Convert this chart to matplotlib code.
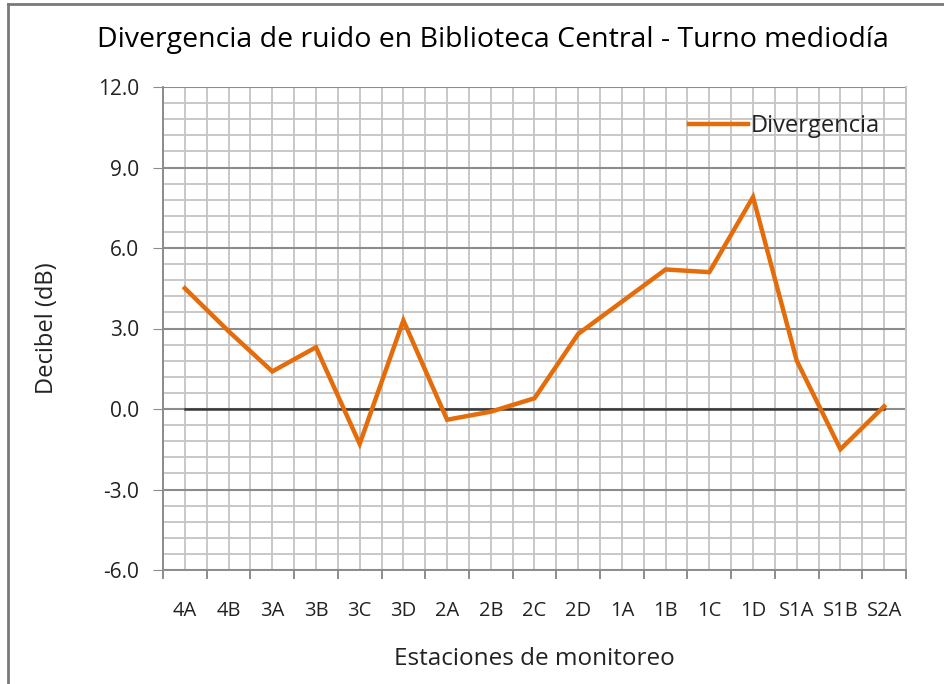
"""Divergencia de ruido - Biblioteca Central, turno mediodía."""
import numpy as np
import matplotlib
matplotlib.use("Agg")
import matplotlib.pyplot as plt
from matplotlib.lines import Line2D

plt.rcParams["font.family"] = ["Open Sans", "DejaVu Sans"]

estaciones = ["4A", "4B", "3A", "3B", "3C", "3D", "2A", "2B", "2C", "2D",
              "1A", "1B", "1C", "1D", "S1A", "S1B", "S2A"]
divergencia = [4.5, 2.9, 1.4, 2.3, -1.3, 3.3, -0.4, -0.1, 0.4, 2.8,
               4.0, 5.2, 5.1, 7.9, 1.8, -1.5, 0.1]
referencia = [0.0] * len(estaciones)

ORANGE = "#E46C0A"
TXT = "#222222"

fig = plt.figure(figsize=(9.45, 6.84), dpi=100)
ax = fig.add_axes([163 / 945, 1 - 570 / 684, 743 / 945, 483 / 684])

x = np.arange(len(estaciones))
ax.plot(x, referencia, color="#3a3a3a", lw=1.8, zorder=3)
ax.plot(x, divergencia, color=ORANGE, lw=3.2, zorder=4, solid_joinstyle="miter")

ax.set_xlim(-0.5, len(estaciones) - 0.5)
ax.set_ylim(-6, 12)

# y axis: majors every 3, minors every 0.6
ax.set_yticks(np.arange(-6, 12.1, 3))
ax.set_yticks(np.arange(-6, 12.01, 0.6), minor=True)
ax.yaxis.set_major_formatter(matplotlib.ticker.FormatStrFormatter("%.1f"))
ax.tick_params(axis="y", which="major", length=7, color="#8c8c8c",
               labelsize=15, labelcolor=TXT, pad=10)
ax.tick_params(axis="y", which="minor", length=0)

# x axis: labels at centres, tick marks at category boundaries
ax.set_xticks(x, estaciones)
ax.set_xticks(np.arange(-0.5, len(estaciones), 0.5), minor=True)
ax.tick_params(axis="x", which="major", length=0, labelsize=14.5,
               labelcolor=TXT, pad=22)
ax.tick_params(axis="x", which="minor", length=0)
for b in np.arange(-0.5, len(estaciones), 1.0):
    ax.plot([b, b], [-6, -6.3], color="#8c8c8c", lw=1.4, clip_on=False)

ax.grid(axis="x", which="both", color="#c4c4c4", lw=1.3)
ax.grid(axis="y", which="minor", color="#c4c4c4", lw=1.3)
ax.grid(axis="y", which="major", color="#8c8c8c", lw=1.5)
ax.set_axisbelow(True)

ax.spines["top"].set_visible(False)
ax.spines["right"].set_color("#c4c4c4")
ax.spines["left"].set_color("#8c8c8c")
ax.spines["bottom"].set_color("#8c8c8c")
for s in ax.spines.values():
    s.set_linewidth(1.4)

ax.set_ylabel("Decibel (dB)", fontsize=17, color=TXT, labelpad=28)
ax.set_xlabel("Estaciones de monitoreo", fontsize=17.5, color=TXT, labelpad=19)
fig.text(0.522, 1 - 40 / 684, "Divergencia de ruido en Biblioteca Central - Turno mediodía",
         ha="center", va="center", fontsize=20.5, color="black")

ax.legend(handles=[Line2D([], [], color=ORANGE, lw=3.2, label="Divergencia")],
          loc="upper right", bbox_to_anchor=(0.993, 0.988), frameon=False,
          fontsize=17, handlelength=2.5, handletextpad=0.1,
          labelcolor=TXT)

# outer frame (left and top edges visible in the reference)
fig.add_artist(Line2D([8 / 945, 8 / 945], [0, 1 - 4 / 684], color="#7a7a7a",
                      lw=2, transform=fig.transFigure))
fig.add_artist(Line2D([8 / 945, 1], [1 - 4 / 684, 1 - 4 / 684], color="#7a7a7a",
                      lw=2, transform=fig.transFigure))

fig.savefig("out.png", dpi=100)
